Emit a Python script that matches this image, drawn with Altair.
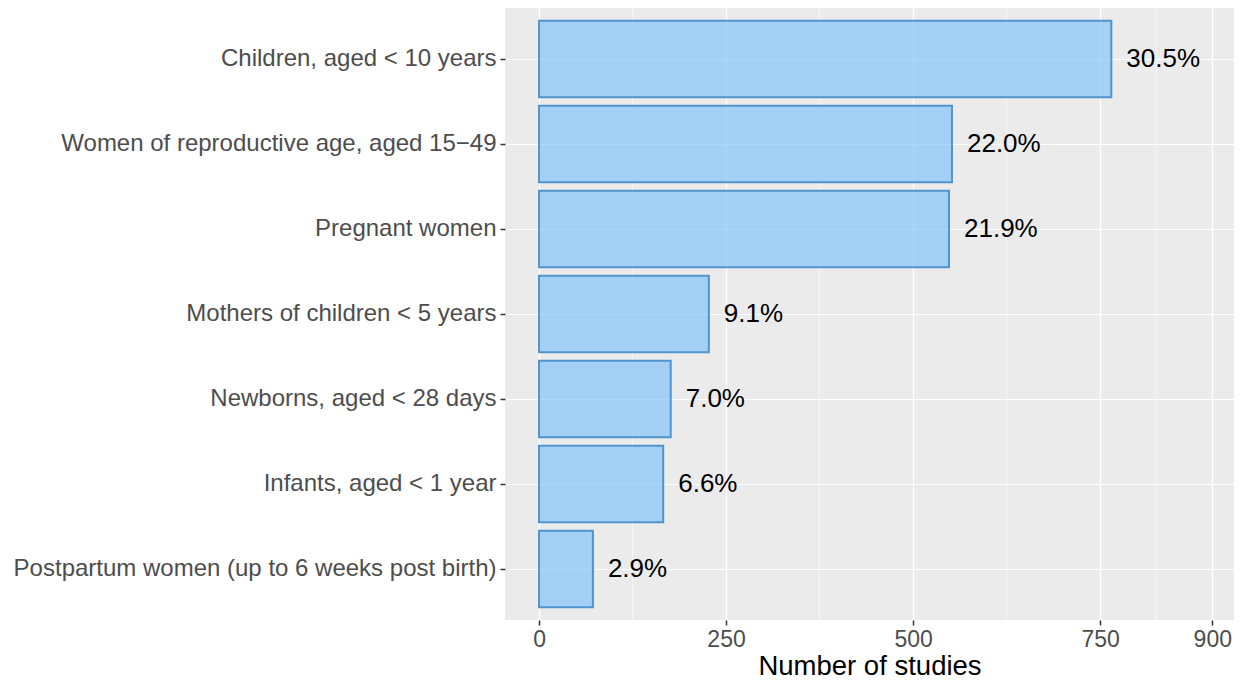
import altair as alt
import pandas as pd

groups = [
    "Children, aged < 10 years",
    "Women of reproductive age, aged 15\u221249",
    "Pregnant women",
    "Mothers of children < 5 years",
    "Newborns, aged < 28 days",
    "Infants, aged < 1 year",
    "Postpartum women (up to 6 weeks post birth)",
]
studies = [765, 552, 548, 227, 176, 166, 72]
pct_labels = ["30.5%", "22.0%", "21.9%", "9.1%", "7.0%", "6.6%", "2.9%"]
major_ticks = [0, 250, 500, 750, 900]
minor_ticks = [125, 375, 625, 825]

df = pd.DataFrame({"group": groups, "studies": studies, "label": pct_labels})
minor_df = pd.DataFrame({"v": minor_ticks})

FONT = "Liberation Sans"
xscale = alt.Scale(domain=[-45.5, 929], nice=False, zero=False)
yscale = alt.Scale(domain=groups, paddingInner=0.1, paddingOuter=0.15)

minor = alt.Chart(minor_df).mark_rule(color="white", strokeWidth=0.6).encode(
    x=alt.X("v:Q", scale=xscale)
)

bars = alt.Chart(df).mark_bar(
    fill="#87C4FA", fillOpacity=0.7, stroke="#4F94CD", strokeWidth=2
).encode(
    y=alt.Y(
        "group:N",
        scale=yscale,
        sort=groups,
        axis=alt.Axis(
            title=None,
            grid=True,
            gridColor="white",
            gridWidth=1.2,
            bandPosition=0.5,
            domain=False,
            tickColor="#333333",
            tickSize=5,
            tickWidth=1.5,
            labelColor="#4D4D4D",
            labelFontSize=24,
            labelFont=FONT,
            labelPadding=4,
            labelLimit=700,
        ),
    ),
    x=alt.X(
        "studies:Q",
        scale=xscale,
        axis=alt.Axis(
            values=major_ticks,
            title="Number of studies",
            titleFontSize=27.5,
            titleFont=FONT,
            titleFontWeight="normal",
            titleColor="black",
            titleBaseline="alphabetic",
            titleY=54,
            grid=True,
            gridColor="white",
            gridWidth=1.2,
            domain=False,
            tickColor="#333333",
            tickSize=5,
            tickWidth=1.5,
            labelColor="#4D4D4D",
            labelFontSize=23,
            labelFont=FONT,
            labelPadding=3,
        ),
    ),
)

text = alt.Chart(df).mark_text(
    align="left", baseline="middle", dx=15, fontSize=26, font=FONT, color="black"
).encode(
    y=alt.Y("group:N", scale=yscale, sort=groups),
    x=alt.X("studies:Q", scale=xscale),
    text="label:N",
)

chart = (
    alt.layer(minor, bars, text)
    .properties(
        width=729,
        height=612,
        autosize=alt.AutoSizeParams(type="none"),
        padding={"left": 497, "top": 0, "right": 0, "bottom": 60},
    )
    .configure_view(fill="#EBEBEB", stroke=None)
)

chart.save("out.html", embed_options={"renderer": "svg", "actions": False})
